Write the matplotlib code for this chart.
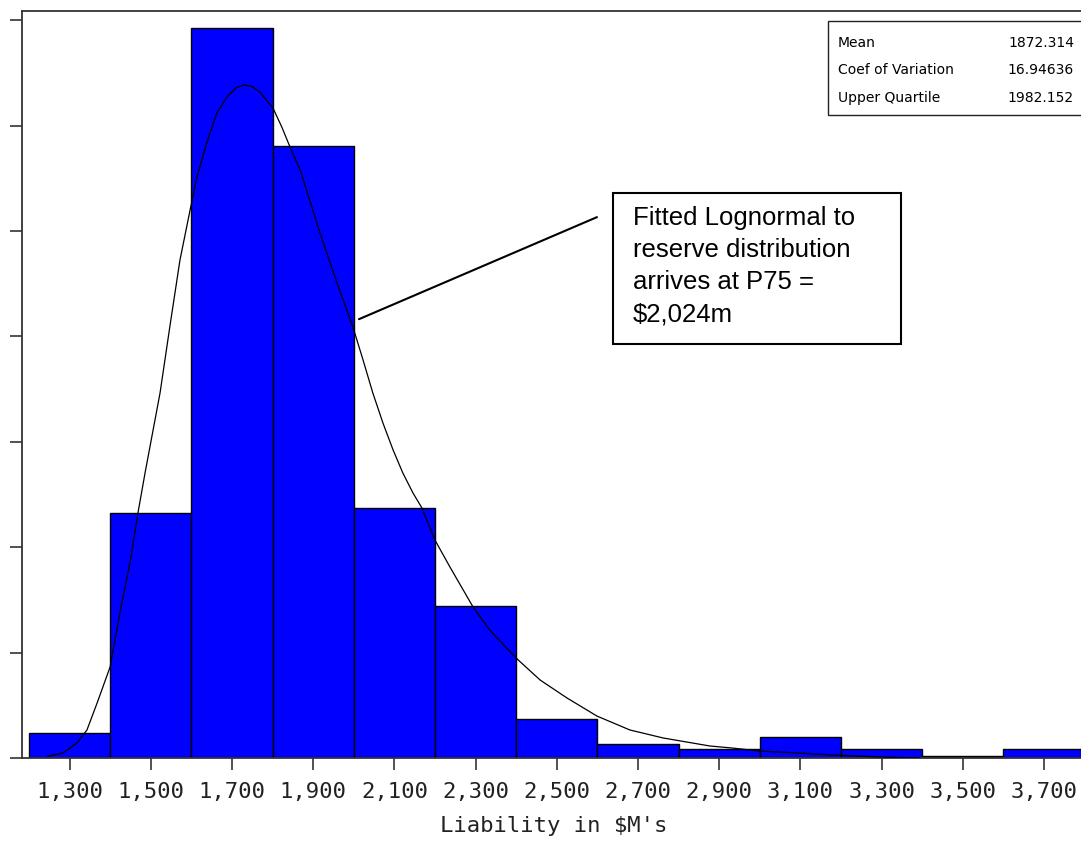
import matplotlib
matplotlib.use("Agg")
import matplotlib.pyplot as plt
from matplotlib.patches import Rectangle

# ---------------------------------------------------------------------------
# Data
# ---------------------------------------------------------------------------
bin_centers = [1300, 1500, 1700, 1900, 2100, 2300, 2500, 2700, 2900, 3100, 3300, 3500, 3700]
rel_freq = [0.012, 0.116, 0.3463, 0.2903, 0.1186, 0.0721, 0.0185, 0.0066,
            0.0045, 0.0100, 0.0043, 0.0010, 0.0043]

# fitted lognormal curve
curve_x = [1247, 1284, 1318, 1343, 1368, 1400, 1424, 1449, 1469, 1486,
           1523, 1547, 1572, 1597, 1614, 1638, 1663, 1688, 1710, 1730, 1750,
           1769, 1801, 1823, 1843, 1868, 1917, 1959, 1998, 2023, 2047, 2072,
           2097, 2121, 2146, 2168, 2200, 2237, 2294, 2335, 2400, 2459, 2525,
           2599, 2680, 2762, 2877, 2934, 3000, 3092, 3180, 3296, 3394]
curve_y = [0.0009, 0.0024, 0.0071, 0.0133, 0.0261, 0.0432, 0.0688, 0.0925,
           0.1167, 0.1352, 0.1732, 0.2045, 0.2362, 0.2600, 0.2756,
           0.2918, 0.3060, 0.3136, 0.3180, 0.3193, 0.3185, 0.3159, 0.3084,
           0.2993, 0.2899, 0.2790, 0.2491, 0.2253, 0.2045, 0.1888, 0.1732,
           0.1589, 0.1461, 0.1352, 0.1257, 0.1186, 0.1034, 0.0906, 0.0716,
           0.0607, 0.0474, 0.0370, 0.0285, 0.0199, 0.0133, 0.0095, 0.0057,
           0.0047, 0.0033, 0.0024, 0.0014, 0.0005, 0.0]

y_ticks = [0.0, 0.05, 0.10, 0.15, 0.20, 0.25, 0.30, 0.35]

stat_names = ["Mean", "Coef of Variation", "Upper Quartile"]
stat_values = ["1872.314", "16.94636", "1982.152"]

note_text = "Fitted Lognormal to\nreserve distribution\narrives at P75 =\n$2,024m"
# where the pointer line touches the curve, and where it ends near the box
note_from = (2013, 0.2082)
note_to = (2599, 0.2566)

W, H = 1081, 843
_AXIS = "#333333"

fig = plt.figure(figsize=(W / 100, H / 100), dpi=100)
fig.patch.set_facecolor("white")


def fx(px):
    return px / W


def fy(py):
    return 1 - py / H


ax = fig.add_axes([fx(22), fy(758), fx(1084.6) - fx(22), fy(11) - fy(758)])

ax.bar(bin_centers, rel_freq, width=200, color="#0000ff",
       edgecolor="black", linewidth=1.0, zorder=2)
ax.plot(curve_x, curve_y, color="black", linewidth=0.9, zorder=3)

ax.set_xlim(1183, 3800)
ax.set_ylim(0, 0.3544)

ax.set_xticks(bin_centers)
ax.set_xticklabels([f"{c:,}" for c in bin_centers],
                   family="DejaVu Sans Mono", fontsize=16, color="#222222")
ax.set_yticks(y_ticks)
ax.set_yticklabels([])
ax.tick_params(axis="both", direction="out", length=8.6, width=1.2,
               color=_AXIS)
ax.tick_params(axis="x", pad=9)

ax.set_xlabel("Liability in $M's", family="DejaVu Sans Mono",
              fontsize=16, color="#222222", labelpad=10)

for side in ("left", "top", "bottom"):
    ax.spines[side].set_color(_AXIS)
    ax.spines[side].set_linewidth(1.3)
ax.spines["right"].set_visible(False)

# pointer from the curve to the note box
ax.annotate("", xy=note_from, xytext=note_to,
            arrowprops=dict(arrowstyle="-", color="black", linewidth=1.5,
                            shrinkA=0, shrinkB=0))

# note box
fig.patches.append(Rectangle((fx(613), fy(344)), fx(901) - fx(613), fy(193) - fy(344),
                             transform=fig.transFigure, facecolor="white",
                             edgecolor="black", linewidth=1.5, zorder=5))
fig.text(fx(633), fy(206), note_text, family="Liberation Sans", fontsize=18.5,
         va="top", ha="left", linespacing=1.43, zorder=6)

# statistics box
fig.patches.append(Rectangle((fx(828), fy(115)), fx(1100) - fx(828), fy(21) - fy(115),
                             transform=fig.transFigure, facecolor="white",
                             edgecolor="#222222", linewidth=1.0, zorder=5))
for i, (name, val) in enumerate(zip(stat_names, stat_values)):
    yc = fy(43 + i * 27.5)
    fig.text(fx(838), yc, name, family="DejaVu Sans", fontsize=10,
             va="center", ha="left", zorder=6)
    fig.text(fx(1074), yc, val, family="DejaVu Sans", fontsize=10,
             va="center", ha="right", zorder=6)

fig.savefig("out.png", dpi=100)
